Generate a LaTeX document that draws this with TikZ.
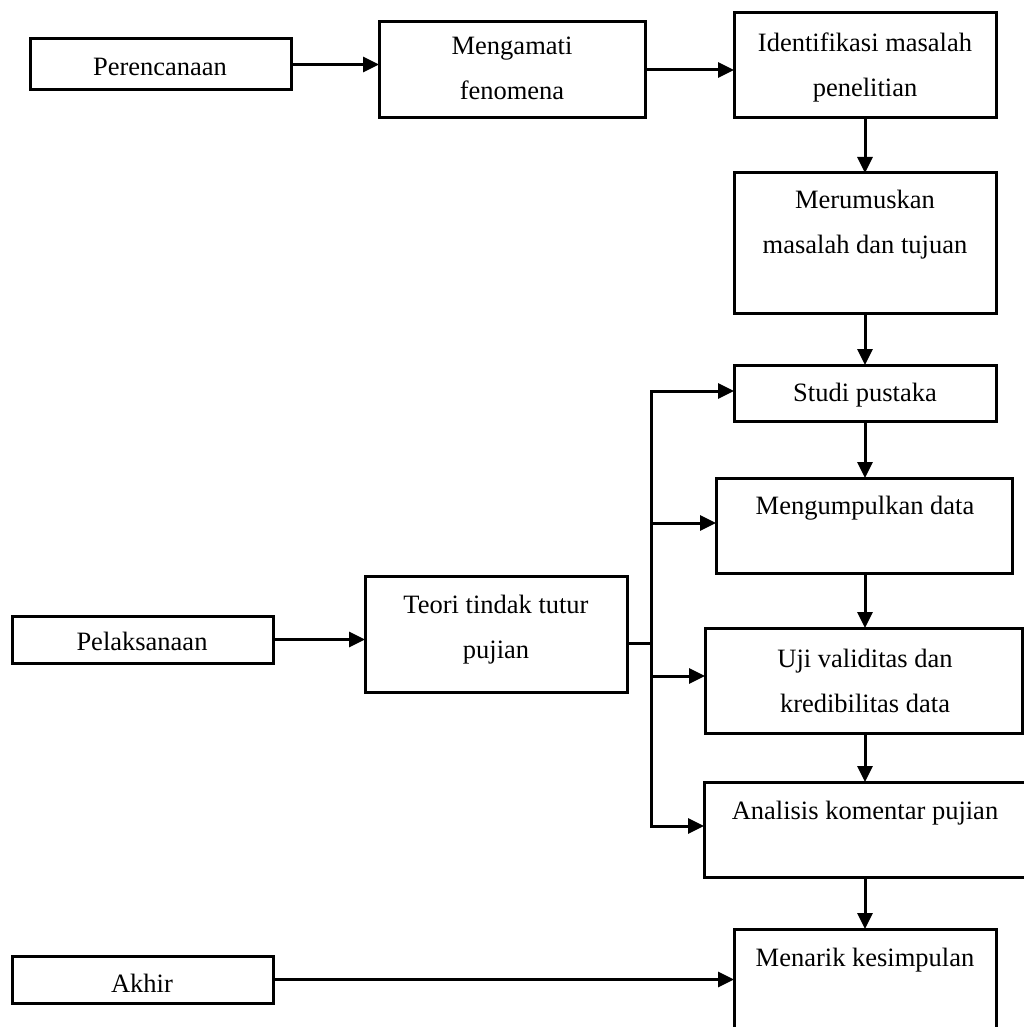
\documentclass[tikz,border=0pt]{standalone}
\usepackage{fontspec}
\setmainfont{Liberation Serif}
\usetikzlibrary{arrows.meta,calc}
\begin{document}
\begin{tikzpicture}[x=1pt,y=-1pt,
  box/.style={draw=black,line width=3pt,inner sep=0pt,outer sep=0pt,fill=none},
  txt/.style={inner sep=0pt,outer sep=0pt,anchor=base,align=center,
    font=\fontsize{26.5}{45}\selectfont},
  arr/.style={line width=3pt,-{Triangle[length=16pt,width=15pt]},line join=miter},
  ln/.style={line width=3pt}]
\useasboundingbox (0,0) rectangle (1024,1027);
% boxes: centre and size from left/right/top/bottom
\newcommand{\mybox}[5]{\node[box,minimum width={#3-#2},minimum height={#5-#4}] (#1) at ({(#2+#3)/2},{(#4+#5)/2}) {};}
\mybox{per}{30}{291}{39}{90}
\mybox{mng}{379}{645}{22}{118}
\mybox{idn}{734}{996}{13}{118}
\mybox{mer}{734}{996}{173}{313}
\mybox{stu}{734}{996}{365}{421}
\mybox{mgk}{716}{1012}{478}{573}
\mybox{uji}{705}{1022}{628}{733}
\mybox{ana}{704}{1032}{782}{877}
\mybox{mnr}{734}{996}{929}{1070}
\mybox{pel}{12}{273}{616}{663}
\mybox{teo}{365}{627}{576}{692}
\mybox{akh}{12}{273}{956}{1003}
% texts (base = baseline of the last line)
\node[txt] (tper) at (160,76) {Perencanaan};
\node[txt] (tmng) at (512,100) {Mengamati\\fenomena};
\node[txt] (tidn) at (865,97) {Identifikasi masalah\\penelitian};
\node[txt] (tmer) at (865,253) {Merumuskan\\masalah dan tujuan};
\node[txt] (tstu) at (865,401) {Studi pustaka};
\node[txt] (tmgk) at (865,514) {Mengumpulkan data};
\node[txt] (tuji) at (865,712) {Uji validitas dan\\kredibilitas data};
\node[txt] (tana) at (865,819) {Analisis komentar pujian};
\node[txt] (tmnr) at (865,966) {Menarik kesimpulan};
\node[txt] (tpel) at (142,650) {Pelaksanaan};
\node[txt] (tteo) at (496,658) {Teori tindak tutur\\pujian};
\node[txt] (takh) at (142,992) {Akhir};
% horizontal arrows top
\draw[arr] (per.east) -- (per.east -| mng.west);
\draw[arr] (mng.east) -- (mng.east -| idn.west);
% vertical chain
\draw[arr] (idn.south) -- (mer.north);
\draw[arr] (mer.south) -- (stu.north);
\draw[arr] (stu.south) -- (stu.south |- mgk.north);
\draw[arr] (mgk.south -| stu.south) -- (stu.south |- uji.north);
\draw[arr] (uji.south -| stu.south) -- (stu.south |- ana.north);
\draw[arr] (ana.south -| stu.south) -- (mnr.north);
% left side
\draw[arr] (pel.east) -- (pel.east -| teo.west);
\draw[arr] (akh.east) -- (akh.east -| mnr.west);
% bus
\coordinate (bt) at (651,391);
\coordinate (bb) at (651,826);
\coordinate (b2) at (651,523);
\coordinate (b3) at (651,676);
\coordinate (bj) at (651,643);
\draw[ln] ($(teo.east)+(0,9)$) -- (bj);
\draw[arr] (bb) -- (bt) -- (bt -| stu.west);
\draw[arr] (bt) -- (bb) -- (bb -| ana.west);
\draw[arr] (b2) -- (b2 -| mgk.west);
\draw[arr] (b3) -- (b3 -| uji.west);
\end{tikzpicture}
\end{document}
